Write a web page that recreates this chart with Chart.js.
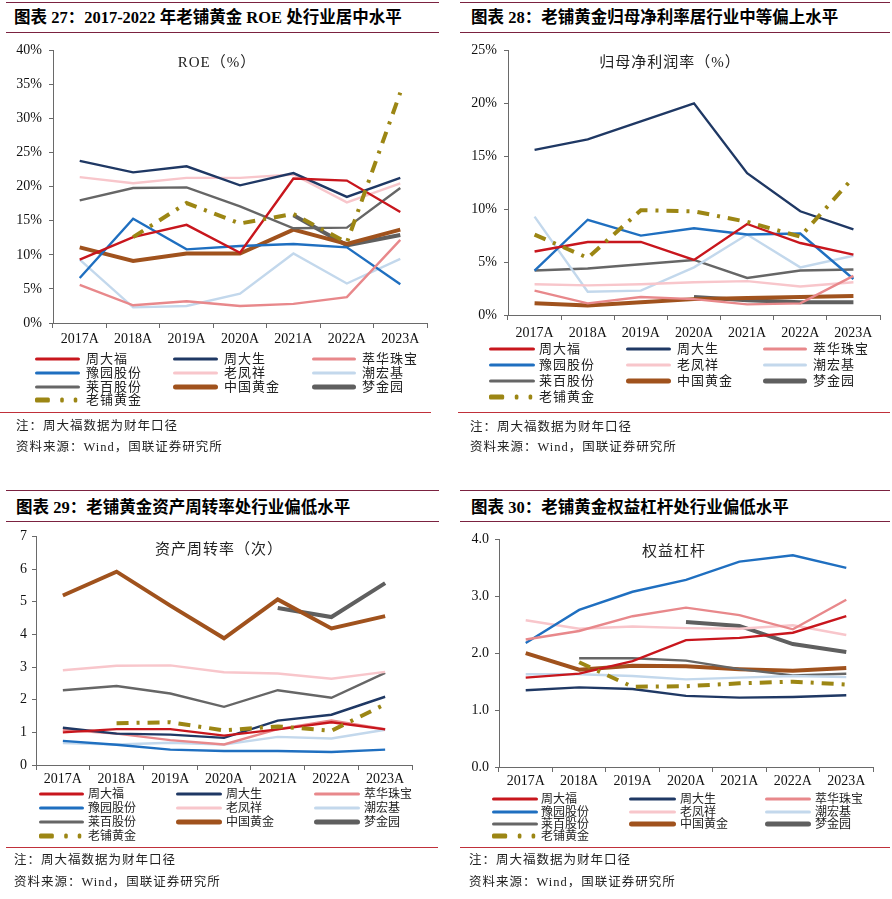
<!DOCTYPE html>
<html><head><meta charset="utf-8">
<script src="https://cdn.jsdelivr.net/npm/chart.js@4.4.1/dist/chart.umd.min.js"></script>
<style>
html,body{margin:0;padding:0;background:#fff;}
body{width:892px;height:899px;position:relative;overflow:hidden;font-family:'Liberation Serif','Noto Sans CJK SC',serif;color:#111;}
.abs{position:absolute;white-space:nowrap;}
.hline{position:absolute;height:0;}
.title{font-family:'Liberation Serif','Noto Sans CJK SC',serif;font-weight:700;font-size:16.5px;line-height:20px;color:#000;}
.note{font-size:12.5px;line-height:16px;letter-spacing:1px;color:#222;}
.leg{font-size:13px;line-height:14px;letter-spacing:1px;color:#222;}
canvas{position:absolute;}
</style></head>
<body>
<script>
// ---------------- data ----------------
const categories = ['2017A','2018A','2019A','2020A','2021A','2022A','2023A'];
const companies = ['周大福','周大生','萃华珠宝','豫园股份','老凤祥','潮宏基','莱百股份','中国黄金','梦金园','老铺黄金'];

// ROE (%)
const roeZhouDaFu        = [9.3, 12.6, 14.4, 10.3, 21.2, 20.9, 16.3];
const roeZhouDaSheng     = [23.8, 22.1, 23.0, 20.2, 22.0, 18.5, 21.3];
const roeCuiHua          = [5.6, 2.6, 3.2, 2.5, 2.8, 3.8, 12.2];
const roeYuYuan          = [6.6, 15.3, 10.8, 11.3, 11.6, 11.1, 5.7];
const roeLaoFengXiang    = [21.4, 20.5, 21.3, 21.3, 21.8, 17.7, 20.5];
const roeChaoHongJi      = [9.3, 2.3, 2.5, 4.3, 10.2, 5.8, 9.4];
const roeLaiBai          = [18.0, 19.8, 19.9, 17.1, 13.9, 14.0, 19.8];
const roeZhongGuoHuangJin= [11.1, 9.1, 10.2, 10.2, 13.7, 11.6, 13.7];
const roeMengJinYuan     = [null, null, null, null, 15.8, 11.4, 12.9];
const roeLaoPu           = [null, 12.6, 17.6, 14.6, 16.0, 11.8, 33.8];

// 归母净利润率 (%)
const nmZhouDaFu         = [6.0, 6.9, 6.9, 5.2, 8.6, 6.8, 5.7];
const nmZhouDaSheng      = [15.6, 16.6, 18.3, 20.0, 13.4, 9.8, 8.1];
const nmCuiHua           = [2.3, 1.1, 1.7, 1.5, 1.0, 1.1, 3.7];
const nmYuYuan           = [4.2, 9.0, 7.5, 8.2, 7.6, 7.7, 3.4];
const nmLaoFengXiang     = [2.9, 2.8, 2.9, 3.1, 3.2, 2.7, 3.1];
const nmChaoHongJi       = [9.3, 2.2, 2.3, 4.5, 7.6, 4.5, 5.6];
const nmLaiBai           = [4.2, 4.4, 4.8, 5.2, 3.5, 4.2, 4.3];
const nmZhongGuoHuangJin = [1.1, 0.9, 1.2, 1.5, 1.6, 1.7, 1.8];
const nmMengJinYuan      = [null, null, null, 1.7, 1.4, 1.2, 1.2];
const nmLaoPu            = [7.6, 5.4, 9.9, 9.8, 8.8, 7.4, 13.0];

// 资产周转率 (次)
const atZhouDaFu         = [1.00, 1.10, 1.10, 0.90, 1.09, 1.31, 1.09];
const atZhouDaSheng      = [1.14, 0.96, 0.93, 0.83, 1.36, 1.54, 2.09];
const atCuiHua           = [1.08, 0.96, 0.76, 0.63, 1.10, 1.36, 1.10];
const atYuYuan           = [0.74, 0.62, 0.47, 0.43, 0.43, 0.40, 0.47];
const atLaoFengXiang     = [2.90, 3.04, 3.05, 2.84, 2.80, 2.64, 2.85];
const atChaoHongJi       = [0.67, 0.63, 0.68, 0.63, 0.86, 0.81, 1.08];
const atLaiBai           = [2.29, 2.42, 2.19, 1.78, 2.29, 2.06, 2.82];
const atZhongGuoHuangJin = [5.19, 5.92, 4.88, 3.88, 5.07, 4.18, 4.56];
const atMengJinYuan      = [null, null, null, null, 4.81, 4.53, 5.57];
const atLaoPu            = [null, 1.28, 1.31, 1.06, 1.18, 1.05, 1.86];

// 权益杠杆
const emZhouDaFu         = [1.57, 1.64, 1.86, 2.23, 2.27, 2.36, 2.65];
const emZhouDaSheng      = [1.35, 1.40, 1.37, 1.25, 1.22, 1.23, 1.26];
const emCuiHua           = [2.24, 2.39, 2.65, 2.80, 2.67, 2.42, 2.94];
const emYuYuan           = [2.18, 2.76, 3.08, 3.29, 3.61, 3.72, 3.50];
const emLaoFengXiang     = [2.58, 2.43, 2.47, 2.44, 2.43, 2.49, 2.32];
const emChaoHongJi       = [1.63, 1.63, 1.60, 1.54, 1.57, 1.60, 1.58];
const emLaiBai           = [null, 1.91, 1.91, 1.87, 1.72, 1.61, 1.64];
const emZhongGuoHuangJin = [2.00, 1.71, 1.78, 1.77, 1.72, 1.69, 1.74];
const emMengJinYuan      = [null, null, null, 2.55, 2.48, 2.16, 2.02];
const emLaoPu            = [null, 1.84, 1.41, 1.42, 1.47, 1.50, 1.45];

const roeTicks = [0, 5, 10, 15, 20, 25, 30, 35, 40];
const nmTicks  = [0, 5, 10, 15, 20, 25];
const atTicks  = [0, 1, 2, 3, 4, 5, 6, 7];
const emTicks  = [0, 1, 2, 3, 4];

const panelTitles = [
  '图表 27：2017-2022 年老铺黄金 ROE 处行业居中水平',
  '图表 28：老铺黄金归母净利率居行业中等偏上水平',
  '图表 29：老铺黄金资产周转率处行业偏低水平',
  '图表 30：老铺黄金权益杠杆处行业偏低水平'
];
const chartCaptions = ['ROE（%）', '归母净利润率（%）', '资产周转率（次）', '权益杠杆'];
const noteText = '注：周大福数据为财年口径';
const sourceText = '资料来源：Wind，国联证券研究所';

// ---------------- styles ----------------
const seriesStyle = [
  {color:'#C8161D', width:2.4},
  {color:'#1F3864', width:2.4},
  {color:'#E8888B', width:2.4},
  {color:'#1F6FC0', width:2.4},
  {color:'#F8C6CB', width:2.4},
  {color:'#C3D8EC', width:2.4},
  {color:'#666666', width:2.4},
  {color:'#A0521D', width:4},
  {color:'#5F5F5F', width:4},
  {color:'#9C8614', width:4, dash:[12,8,3,8]}
];

function buildDatasets(arrs){
  return arrs.map((d,i)=>({
    label: companies[i],
    data: d,
    borderColor: seriesStyle[i].color,
    backgroundColor: seriesStyle[i].color,
    borderWidth: seriesStyle[i].width,
    borderDash: seriesStyle[i].dash || [],
    borderCapStyle: 'butt',
    pointRadius: 0,
    tension: 0,
    fill: false,
    spanGaps: false,
    order: i === 9 ? -1 : i
  }));
}

const captionPlugin = {
  id: 'caption',
  afterDatasetsDraw(chart, args, opts){
    const ctx = chart.ctx;
    ctx.save();
    ctx.font = '15px "Liberation Serif","Noto Sans CJK SC"';
    try { ctx.letterSpacing = '1px'; } catch(e){}
    ctx.fillStyle = '#222';
    ctx.textAlign = 'center';
    ctx.textBaseline = 'middle';
    ctx.fillText(opts.text, opts.x, opts.y);
    ctx.restore();
  }
};

function makeChart(cfg){
  const cv = document.createElement('canvas');
  cv.style.left = cfg.left + 'px';
  cv.style.top = cfg.top + 'px';
  cv.style.width = cfg.w + 'px';
  cv.style.height = cfg.h + 'px';
  cv.width = cfg.w; cv.height = cfg.h;
  document.body.appendChild(cv);
  const tickFont = {family:'"Liberation Serif"', size:14};
  new Chart(cv, {
    type: 'line',
    data: {labels: categories, datasets: buildDatasets(cfg.series)},
    plugins: [captionPlugin],
    options: {
      responsive: false,
      animation: false,
      devicePixelRatio: 1,
      layout: {padding: {top: cfg.padTop, right: cfg.padRight, left: 0, bottom: 0}},
      plugins: {
        legend: {display: false},
        tooltip: {enabled: false},
        caption: {text: cfg.caption, x: cfg.capX, y: cfg.capY}
      },
      scales: {
        x: {
          type: 'category',
          offset: true,
          grid: {offset: true, drawOnChartArea: false, drawTicks: true, tickLength: 5, color: '#6a6a6a', lineWidth: 1},
          border: {display: true, color: '#6a6a6a', width: 1},
          ticks: {font: tickFont, color: '#111', padding: cfg.xPad, maxRotation: 0, autoSkip: false},
          afterFit: s => { s.height = cfg.xH; }
        },
        y: {
          min: cfg.ticks[0], max: cfg.ticks[cfg.ticks.length-1],
          afterBuildTicks: s => { s.ticks = cfg.ticks.map(v => ({value: v})); },
          grid: {drawOnChartArea: false, drawTicks: true, tickLength: 4, color: '#6a6a6a', lineWidth: 1},
          border: {display: true, color: '#6a6a6a', width: 1},
          ticks: {font: tickFont, color: '#111', padding: cfg.yPad, callback: cfg.fmt},
          afterFit: s => { s.width = cfg.yW; }
        }
      }
    }
  });
}

function addText(cls, text, left, cy, lh){
  const d = document.createElement('div');
  d.className = 'abs ' + cls;
  d.textContent = text;
  d.style.left = left + 'px';
  d.style.top = (cy - lh/2) + 'px';
  document.body.appendChild(d);
  return d;
}
function addLine(x1, x2, y, color, w){
  const d = document.createElement('div');
  d.className = 'hline';
  d.style.left = x1 + 'px';
  d.style.width = (x2 - x1) + 'px';
  d.style.top = (y - w/2) + 'px';
  d.style.borderTop = w + 'px solid ' + color;
  document.body.appendChild(d);
}
function legendSample(i, x, cy, len){
  const s = seriesStyle[i];
  const ns = 'http://www.w3.org/2000/svg';
  const svg = document.createElementNS(ns, 'svg');
  svg.setAttribute('width', len); svg.setAttribute('height', 10);
  svg.style.position = 'absolute';
  svg.style.left = x + 'px'; svg.style.top = (cy - 5) + 'px';
  const th = (s.width > 3) ? 5 : 3.2;
  if (s.dash){
    const pieces = [[0, len*0.33], [len*0.56, len*0.64], [len*0.86, len*0.94]];
    pieces.forEach(p => {
      const r = document.createElementNS(ns, 'rect');
      r.setAttribute('x', p[0]); r.setAttribute('y', 5 - th/2);
      r.setAttribute('width', p[1]-p[0]); r.setAttribute('height', th);
      r.setAttribute('rx', 1.5);
      r.setAttribute('fill', s.color);
      svg.appendChild(r);
    });
  } else {
    const r = document.createElementNS(ns, 'rect');
    r.setAttribute('x', 0); r.setAttribute('y', 5 - th/2);
    r.setAttribute('width', len); r.setAttribute('height', th);
    r.setAttribute('rx', th/2);
    r.setAttribute('fill', s.color);
    svg.appendChild(r);
  }
  document.body.appendChild(svg);
}
function buildLegend(L){
  companies.forEach((name, i) => {
    const row = Math.floor(i/3), col = i % 3;
    const cy = L.rows[row];
    const c = L.cols[col];
    legendSample(i, c[0], cy, c[1] - c[0]);
    const t = addText('leg', name, c[2], cy, 14);
    t.style.fontSize = L.fs + 'px';
    t.style.letterSpacing = L.ls + 'px';
  });
}

const panels = [
  { // ROE
    left:0, top:35, w:440, h:320, yW:53, padTop:10, padRight:13, xH:32, xPad:3, yPad:7,
    ticks: roeTicks, fmt: v => v + '%',
    series:[roeZhouDaFu, roeZhouDaSheng, roeCuiHua, roeYuYuan, roeLaoFengXiang, roeChaoHongJi, roeLaiBai, roeZhongGuoHuangJin, roeMengJinYuan, roeLaoPu],
    caption: chartCaptions[0], capX: 217, capY: 28,
    title: panelTitles[0], tX: 14, tY: 18, lineTop: 3, lineUnder: 33, lx1: 6, lx2: 439,
    legend: {rows:[359,373,387,400], cols:[[35,80,86],[173,218,224],[312,356,362]], fs:13, ls:1},
    sepY: 413, sx1: 0, sx2: 431, noteX: 16, noteY: 426, srcY: 447
  },
  { // net margin
    left:450, top:35, w:442, h:310, yW:58, padTop:10, padRight:12, xH:30, xPad:5, yPad:7,
    ticks: nmTicks, fmt: v => v + '%',
    series:[nmZhouDaFu, nmZhouDaSheng, nmCuiHua, nmYuYuan, nmLaoFengXiang, nmChaoHongJi, nmLaiBai, nmZhongGuoHuangJin, nmMengJinYuan, nmLaoPu],
    caption: chartCaptions[1], capX: 220, capY: 28,
    title: panelTitles[1], tX: 471, tY: 18, lineTop: 3, lineUnder: 33, lx1: 460, lx2: 890,
    legend: {rows:[349,365,381,397], cols:[[489,535,539],[626,671,677],[763,807,813]], fs:13, ls:1},
    sepY: 413, sx1: 458, sx2: 890, noteX: 470, noteY: 427, srcY: 447
  },
  { // asset turnover
    left:0, top:523, w:440, h:265, yW:36, padTop:10, padRight:28, xH:23, xPad:1, yPad:5,
    ticks: atTicks, fmt: v => String(v),
    series:[atZhouDaFu, atZhouDaSheng, atCuiHua, atYuYuan, atLaoFengXiang, atChaoHongJi, atLaiBai, atZhongGuoHuangJin, atMengJinYuan, atLaoPu],
    caption: chartCaptions[2], capX: 219, capY: 27,
    title: panelTitles[2], tX: 16, tY: 508, lineTop: 491, lineUnder: 522, lx1: 6, lx2: 439,
    legend: {rows:[794,808,822,836], cols:[[39,84,88],[176,222,226],[314,360,364]], fs:12, ls:0},
    sepY: 848, sx1: 6, sx2: 438, noteX: 14, noteY: 860, srcY: 882
  },
  { // equity multiplier
    left:450, top:525, w:442, h:265, yW:49, padTop:10, padRight:19, xH:23, xPad:1, yPad:6,
    ticks: emTicks, fmt: v => v.toFixed(1),
    series:[emZhouDaFu, emZhouDaSheng, emCuiHua, emYuYuan, emLaoFengXiang, emChaoHongJi, emLaiBai, emZhongGuoHuangJin, emMengJinYuan, emLaoPu],
    caption: chartCaptions[3], capX: 224, capY: 27,
    title: panelTitles[3], tX: 471, tY: 508, lineTop: 491, lineUnder: 522, lx1: 460, lx2: 890,
    legend: {rows:[799,812,824,836], cols:[[492,538,541],[629,676,680],[765,811,815]], fs:12, ls:0},
    sepY: 848, sx1: 460, sx2: 890, noteX: 469, noteY: 860, srcY: 882
  }
];

panels.forEach(p => {
  addLine(p.lx1, p.lx2, p.lineTop, '#7B2240', 1.3);
  addLine(p.lx1, p.lx2, p.lineUnder, '#7B2240', 1.3);
  addText('title', p.title, p.tX, p.tY, 20);
  makeChart(p);
  buildLegend(p.legend);
  addLine(p.sx1, p.sx2, p.sepY, '#C0303A', 1.2);
  addText('note', noteText, p.noteX, p.noteY, 16);
  addText('note', sourceText, p.noteX, p.srcY, 16);
});
</script>
</body></html>
